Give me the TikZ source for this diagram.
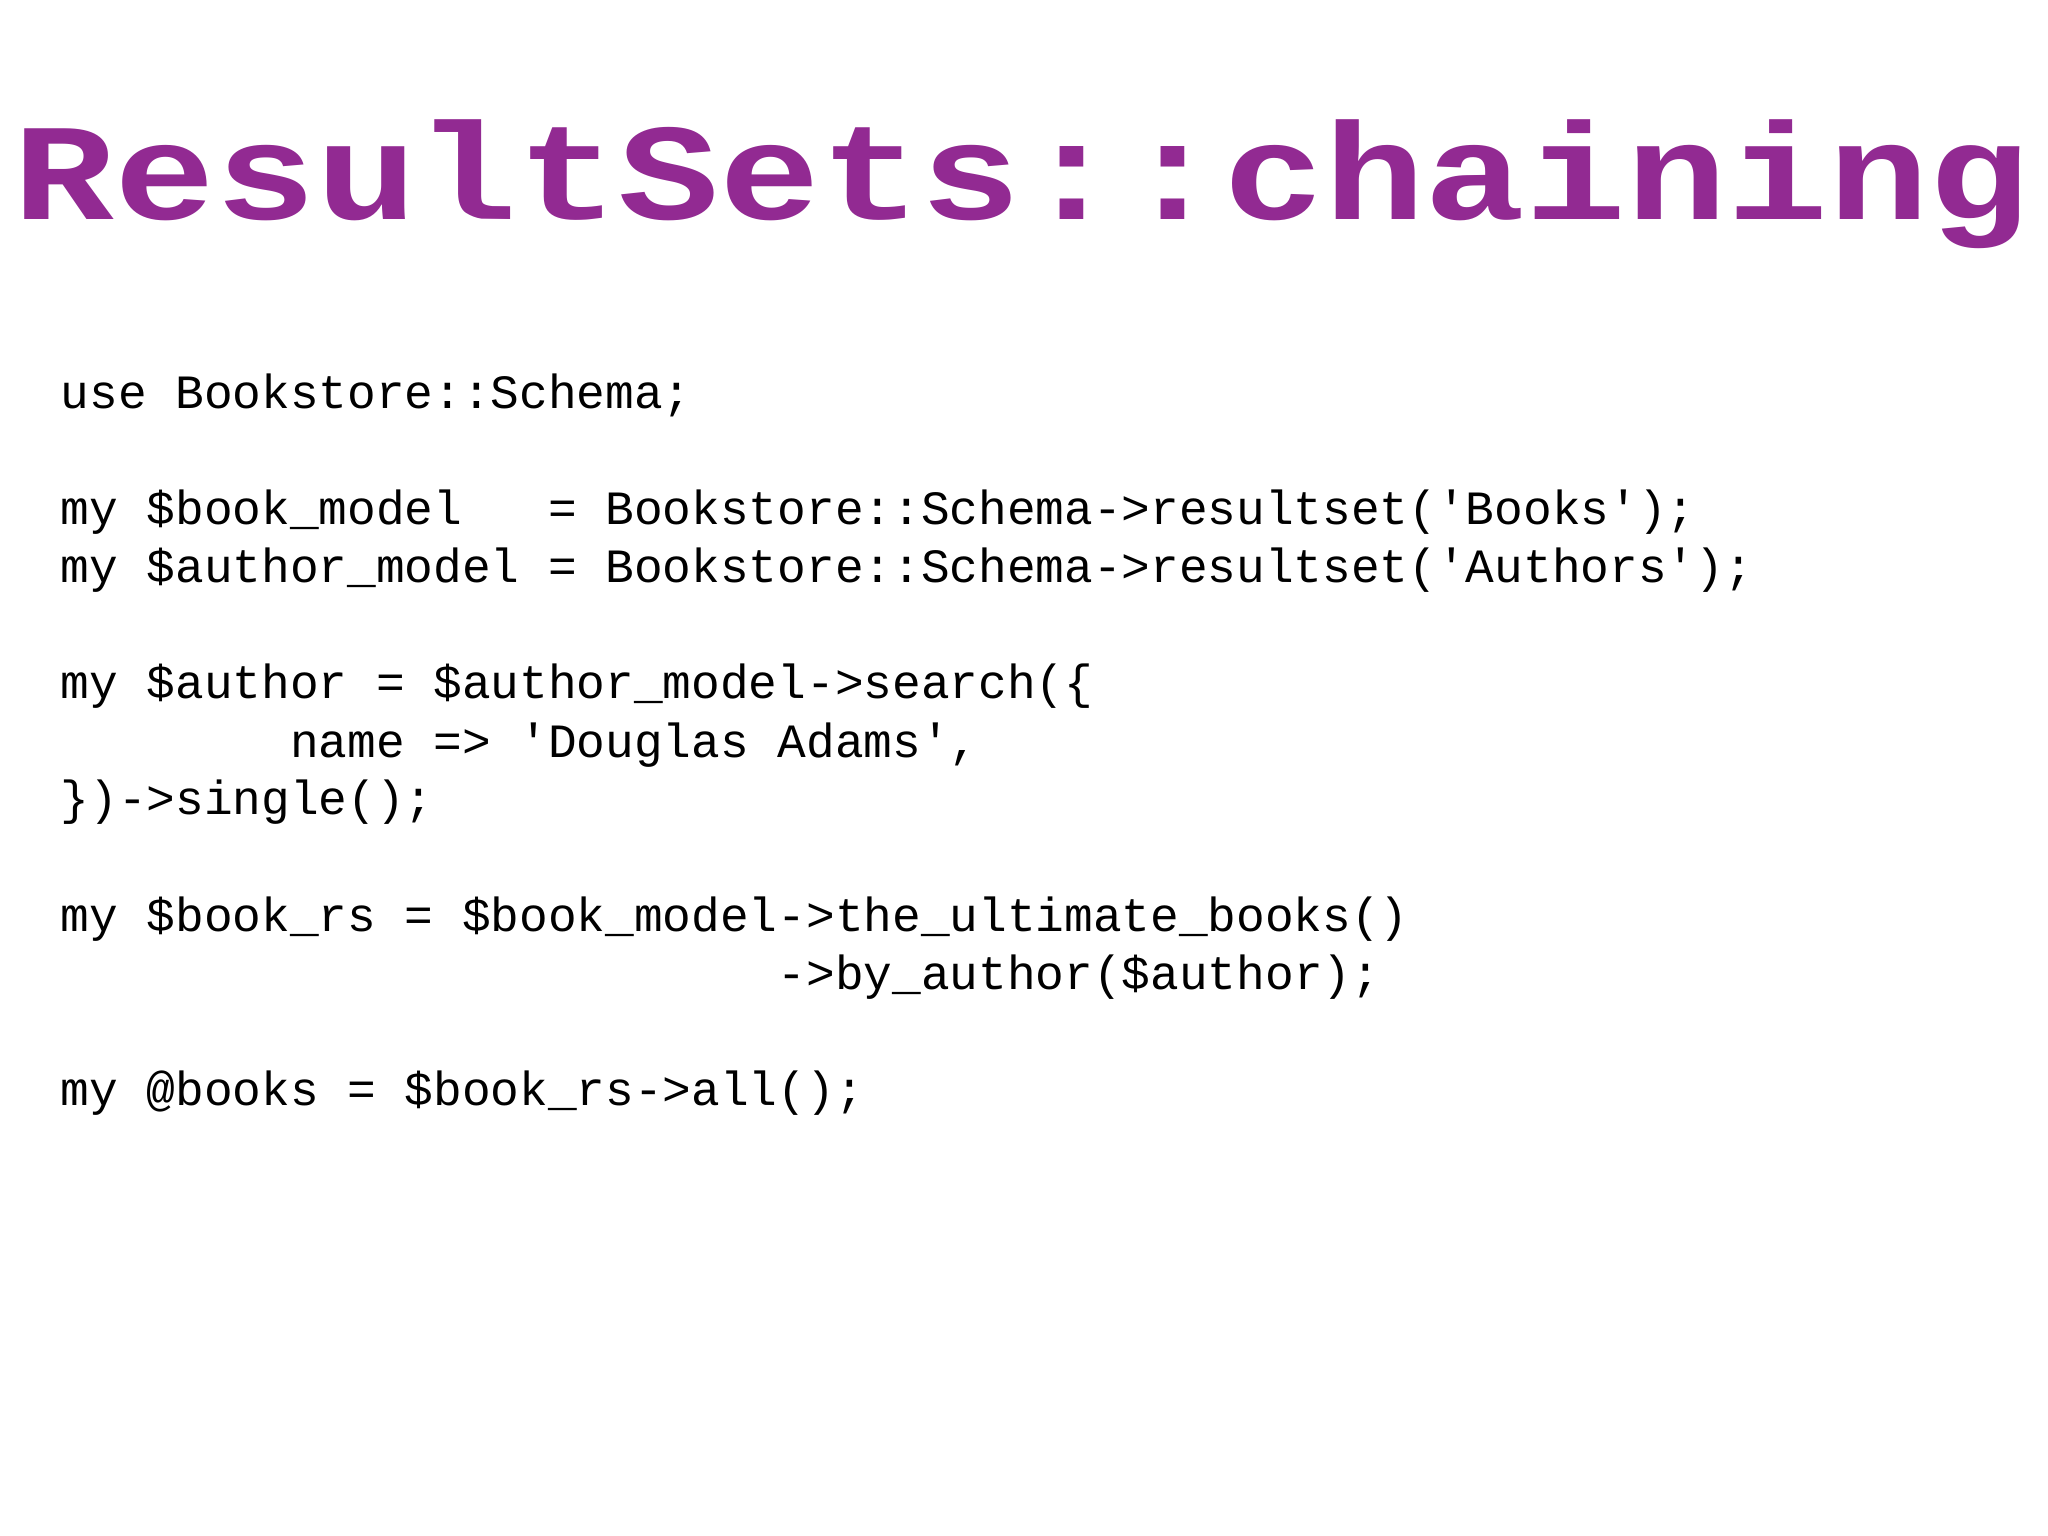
\documentclass[tikz,border=0pt]{standalone}
\usepackage{fontspec}
\usepackage{graphicx}
\newfontfamily\codefont{Liberation Mono}
\definecolor{ttl}{HTML}{922A92}
\begin{document}
\begin{tikzpicture}[x=1cm,y=1cm,
  code/.style={anchor=base west,inner sep=0pt,font=\codefont\fontsize{13.6pt}{13.6pt}\selectfont}]
\fill[white] (0,0) rectangle (20.48,-15.36);
\useasboundingbox (0,0) rectangle (20.48,-15.36);
\node[anchor=base west,inner sep=0pt,text=ttl,font=\codefont\bfseries\fontsize{47.8pt}{47.8pt}\selectfont] (title) at (0.13,-2.20) {\scalebox{1}[0.82]{ResultSets::chaining}};
\def\L{0.60}
\node[code] (l0) at (\L,-4.09) {use~Bookstore::Schema;};
\node[code] (l2) at (\L,-5.25) {my~\$book\_model~~~=~Bookstore::Schema->resultset('Books');};
\node[code] (l3) at (\L,-5.83) {my~\$author\_model~=~Bookstore::Schema->resultset('Authors');};
\node[code] (l5) at (\L,-6.99) {my~\$author~=~\$author\_model->search(\{};
\node[code] (l6) at (\L,-7.57) {~~~~~~~~name~=>~'Douglas~Adams',};
\node[code] (l7) at (\L,-8.15) {\})->single();};
\node[code] (l9) at (\L,-9.31) {my~\$book\_rs~=~\$book\_model->the\_ultimate\_books()};
\node[code] (l10) at (\L,-9.89) {~~~~~~~~~~~~~~~~~~~~~~~~~->by\_author(\$author);};
\node[code] (l12) at (\L,-11.05) {my~@books~=~\$book\_rs->all();};
\end{tikzpicture}
\end{document}
